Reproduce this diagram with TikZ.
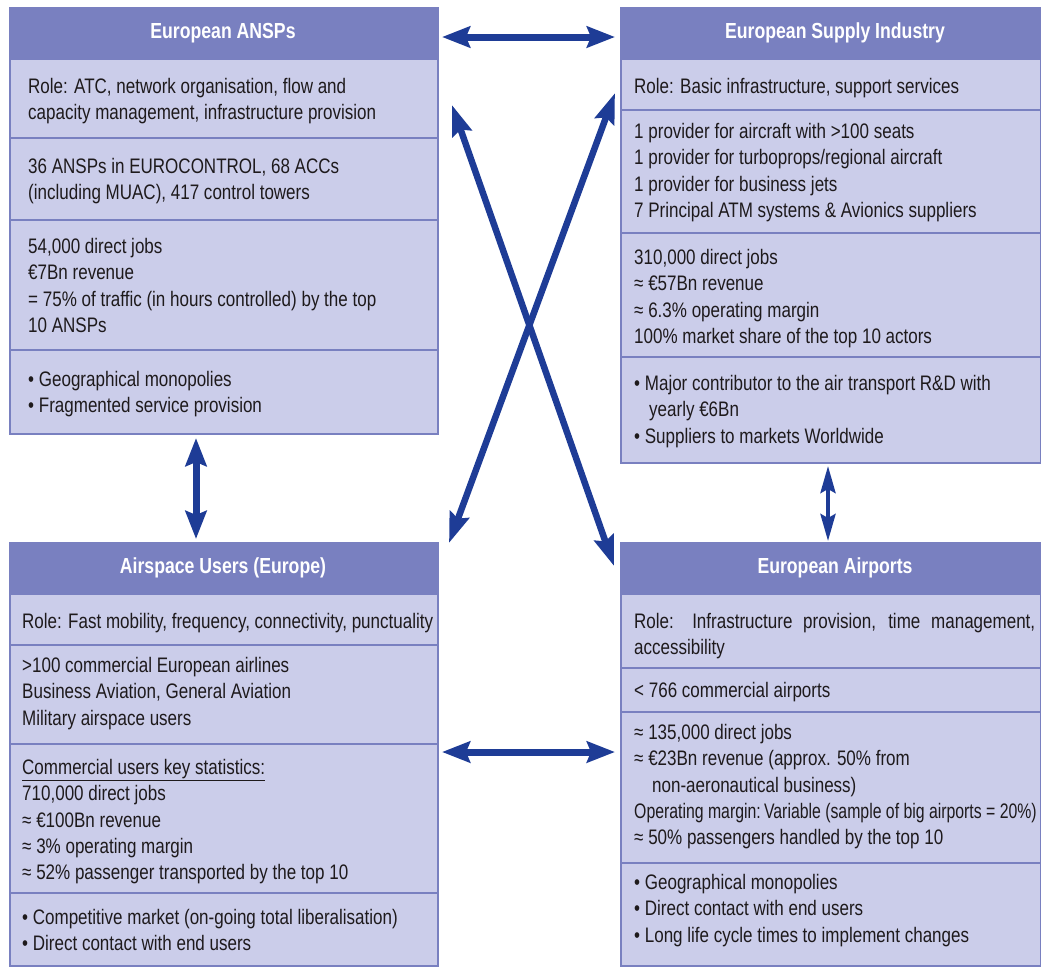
\documentclass[tikz,border=0pt]{standalone}
\usepackage{graphicx}
\usepackage{fontspec}
\setmainfont{Liberation Sans}[FakeStretch=0.81]
\usetikzlibrary{arrows.meta}
\definecolor{headblue}{HTML}{7980C0}
\definecolor{bodyblue}{HTML}{CBCDEA}
\definecolor{arrowblue}{HTML}{1E3C96}
\definecolor{ink}{HTML}{1E1A1C}

\begin{document}
\begin{tikzpicture}[x=1pt,y=-1pt,
  panel/.style={draw=headblue, line width=2pt, fill=bodyblue, inner sep=0pt, anchor=north west},
  headtext/.style={font=\fontsize{21.8}{25}\selectfont\bfseries, text=white, inner sep=0pt},
  sect/.style={anchor=north west, inner sep=0pt, align=left, text=ink, font=\fontsize{21}{26.3}\selectfont},
  divider/.style={draw=headblue, line width=2pt},
  link/.style={draw=arrowblue, line width=7pt,
    {Stealth[length=28pt,width=21pt,inset=4pt]}-{Stealth[length=28pt,width=21pt,inset=4pt]}},
  slimlink/.style={draw=arrowblue, line width=4pt,
    {Stealth[length=27pt,width=15pt,inset=4pt]}-{Stealth[length=27pt,width=15pt,inset=4pt]}},
  crosslink/.style={draw=arrowblue, line width=6.5pt,
    {Stealth[length=30pt,width=20pt,inset=4pt]}-{Stealth[length=30pt,width=20pt,inset=4pt]}},
]
\useasboundingbox (0,0) rectangle (1041,967);

% ---------- European ANSPs ----------
\node[panel, minimum width=428pt, minimum height=426pt] (ansp) at (9,7) {};
\fill[headblue] (9,7) rectangle (437,60);
\draw[divider] (9,138) -- (437,138);
\draw[divider] (9,220) -- (437,220);
\draw[divider] (9,350) -- (437,350);
\node[headtext] (ansp-title) at (223,33) {European ANSPs};
\node[sect] (ansp-role) at (28,75) {\strut Role: ATC, network organisation, flow and\\capacity management, infrastructure provision};
\node[sect] (ansp-count) at (28,155) {\strut 36 ANSPs in EUROCONTROL, 68 ACCs\\(including MUAC), 417 control towers};
\node[sect] (ansp-stats) at (28,235) {\strut 54,000 direct jobs\\€7Bn revenue\\= 75\% of traffic (in hours controlled) by the top\\10 ANSPs};
\node[sect] (ansp-notes) at (28,368) {\strut • Geographical monopolies\\• Fragmented service provision};

% ---------- European Supply Industry ----------
\node[panel, minimum width=420pt, minimum height=455pt] (supply) at (620,7) {};
\fill[headblue] (620,7) rectangle (1040,60);
\draw[divider] (620,110) -- (1040,110);
\draw[divider] (620,233) -- (1040,233);
\draw[divider] (620,357) -- (1040,357);
\node[headtext] (supply-title) at (835,33) {European Supply Industry};
\node[sect] (supply-role) at (634,75) {\strut Role: Basic infrastructure, support services};
\node[sect] (supply-count) at (634,120) {\strut 1 provider for aircraft with >100 seats\\1 provider for turboprops/regional aircraft\\1 provider for business jets\\7 Principal ATM systems \& Avionics suppliers};
\node[sect] (supply-stats) at (634,246) {\strut 310,000 direct jobs\\≈ €57Bn revenue\\≈ 6.3\% operating margin\\100\% market share of the top 10 actors};
\node[sect] (supply-notes) at (634,372) {\strut • Major contributor to the air transport R\&D with\\\hspace*{15pt}yearly €6Bn\\• Suppliers to markets Worldwide};

% ---------- Airspace Users (Europe) ----------
\node[panel, minimum width=428pt, minimum height=423pt] (users) at (9,542) {};
\fill[headblue] (9,542) rectangle (437,595);
\draw[divider] (9,645) -- (437,645);
\draw[divider] (9,744) -- (437,744);
\draw[divider] (9,893) -- (437,893);
\node[headtext] (users-title) at (223,568) {Airspace Users (Europe)};
\node[sect] (users-role) at (22,610) {\strut Role: Fast mobility, frequency, connectivity, punctuality};
\node[sect] (users-count) at (22,654) {\strut >100 commercial European airlines\\Business Aviation, General Aviation\\Military airspace users};
\node[sect] (users-stats) at (22,756) {\strut \underline{Commercial users key statistics:}\\710,000 direct jobs\\≈ €100Bn revenue\\≈ 3\% operating margin\\≈ 52\% passenger transported by the top 10};
\node[sect] (users-notes) at (22,906) {\strut • Competitive market (on-going total liberalisation)\\• Direct contact with end users};

% ---------- European Airports ----------
\node[panel, minimum width=420pt, minimum height=423pt] (airp) at (620,542) {};
\fill[headblue] (620,542) rectangle (1040,595);
\draw[divider] (620,668) -- (1040,668);
\draw[divider] (620,712) -- (1040,712);
\draw[divider] (620,863) -- (1040,863);
\node[headtext] (airp-title) at (835,568) {European Airports};
\node[sect, text width=401pt, align=justify] (airp-role) at (634,610) {\strut Role: Infrastructure provision, time management,\linebreak accessibility};
\node[sect] (airp-count) at (634,679) {\strut < 766 commercial airports};
\node[sect] (airp-stats) at (634,721) {\strut ≈ 135,000 direct jobs\\≈ €23Bn revenue (approx. 50\% from\\\hspace*{18pt}non-aeronautical business)\\\scalebox{0.93}[1]{Operating margin:\,Variable (sample of big airports = 20\%)}\\≈ 50\% passengers handled by the top 10};
\node[sect] (airp-notes) at (634,871) {\strut • Geographical monopolies\\• Direct contact with end users\\• Long life cycle times to implement changes};

% ---------- Relations between the actors ----------
\draw[link] ([shift={(3,30)}]ansp.north east) -- ([shift={(-5,30)}]supply.north west);
\draw[link] ([shift={(3,210)}]users.north east) -- ([shift={(-5,210)}]airp.north west);
\draw[link] ([shift={(-28,3)}]ansp.south) -- ([shift={(-28,-3)}]users.north);
\draw[slimlink] ([shift={(-3,2)}]supply.south) -- ([shift={(-3,-1)}]airp.north);
\draw[crosslink] ([shift={(13,98)}]ansp.north east) -- ([shift={(-6,24)}]airp.north west);
\draw[crosslink] ([shift={(10,1)}]users.north east) -- ([shift={(-5,86)}]supply.north west);
\end{tikzpicture}
\end{document}
